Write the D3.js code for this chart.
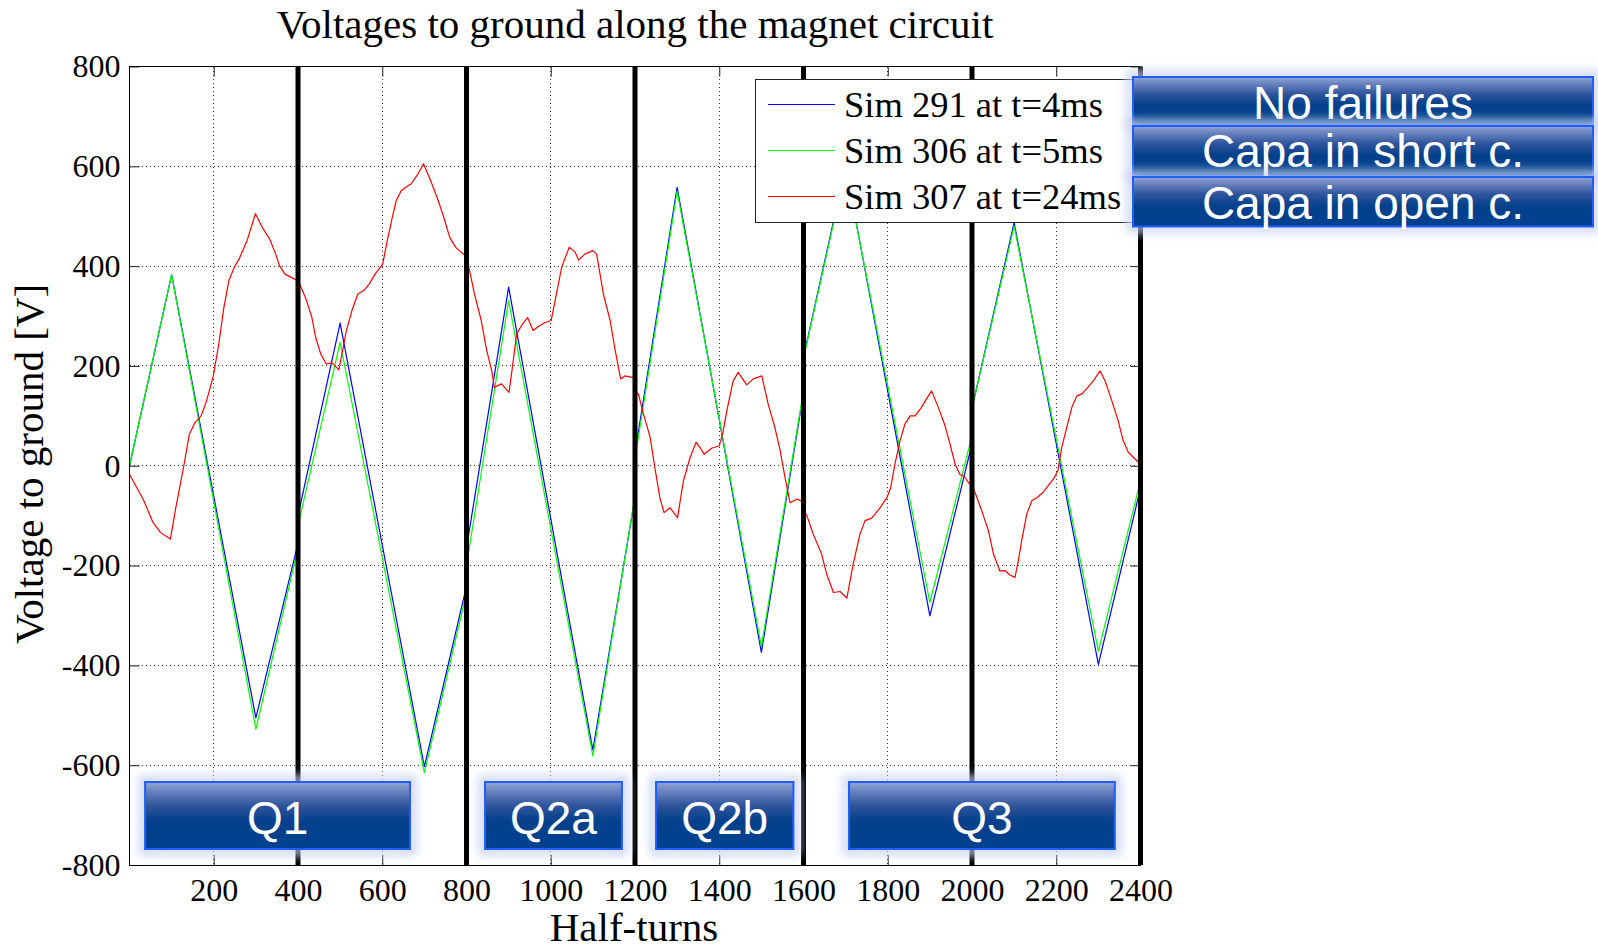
<!DOCTYPE html>
<html>
<head>
<meta charset="utf-8">
<script src="https://cdn.jsdelivr.net/npm/d3@7"></script>
<style>
  body { margin: 0; background: #fff; }
  svg { display: block; }
</style>
</head>
<body>
<svg id="chart" width="1598" height="947"></svg>
<script>
// ---- Data -----------------------------------------------------------------
// Half-turn positions of the triangle-wave vertices (each sector restarts at its boundary)
const triHalfTurns = [0, 100, 300, 400,   400, 500, 700, 800,   800, 900, 1100, 1200,
                      1200, 1300, 1500, 1600,   1600, 1700, 1900, 2000,   2000, 2100, 2300, 2400];
// Voltage to ground [V], Sim 291 (no failures)
const sim291 = [0, 383, -505, -155,   -100, 286, -603, -241,   -165, 358, -570, -63,
                25, 558, -374, 146,   217, 600, -301, 44,   115, 487, -398, -45];
// Voltage to ground [V], Sim 306 (capacitor in short circuit)
const sim306 = [0, 383, -528, -165,   -120, 247, -615, -255,   -200, 331, -582, -60,
                14, 550, -362, 150,   215, 595, -274, 60,   115, 480, -372, -30];

// Sim 307 (capacitor in open circuit), sampled along the circuit
const redHalfTurns = [0, 33, 56, 74, 97, 110, 129, 142, 156, 170, 183, 199, 212, 224, 236, 249, 260, 279, 299, 315,
  333, 347, 356, 369, 392, 400,
  404, 419, 433, 442, 454, 467, 481, 497, 506, 515, 528, 542, 556, 569, 583, 601, 612, 624, 633, 645, 656, 669, 685, 698,
  715, 733, 746, 760, 774, 787, 800,
  808, 819, 835, 848, 860, 866, 883, 901, 910, 919, 933, 945, 958, 974, 987, 1001, 1012, 1026, 1044, 1058, 1066, 1081,
  1100, 1109, 1125, 1141, 1153, 1166, 1176, 1192, 1200,
  1200, 1208, 1220, 1236, 1247, 1259, 1269, 1283, 1301, 1315, 1331, 1345, 1354, 1364, 1382, 1400, 1408, 1418, 1433,
  1445, 1465, 1481, 1501, 1516, 1532, 1544, 1556, 1568, 1584, 1600,
  1600, 1608, 1623, 1643, 1655, 1671, 1687, 1703, 1718, 1734, 1746, 1762, 1782, 1798, 1807, 1817, 1829, 1841, 1853,
  1865, 1880, 1892, 1904, 1920, 1936, 1948, 1960, 1971, 1983, 1991, 2000,
  2007, 2023, 2039, 2051, 2066, 2078, 2090, 2102, 2110, 2118, 2130, 2142, 2154, 2169, 2181, 2193, 2204, 2213, 2225,
  2237, 2249, 2261, 2272, 2288, 2304, 2316, 2332, 2347, 2359, 2371, 2383, 2395, 2400];
const sim307 = [-17, -68, -114, -134, -147, -84, 0, 63, 87, 100, 130, 180, 244, 317, 371, 398, 414, 451, 505, 478,
  454, 424, 401, 384, 374, 370,
  364, 334, 297, 257, 224, 204, 206, 192, 231, 271, 311, 344, 351, 364, 384, 404, 451, 498, 531, 551, 558, 565, 585, 605,
  571, 531, 498, 458, 438, 428, 420,
  388, 344, 291, 231, 190, 157, 164, 147, 204, 264, 284, 297, 271, 281, 287, 291, 338, 398, 438, 428, 412, 424,
  431, 424, 344, 291, 231, 174, 180, 177, 178,
  150, 144, 104, 57, -3, -64, -94, -84, -104, -30, 17, 47, 37, 23, 35, 40, 64, 110, 170,
  187, 162, 174, 180, 124, 77, 33, -23, -74, -67, -72,
  -90, -100, -137, -177, -217, -254, -252, -265, -197, -137, -110, -105, -84, -64, -44, 3, 50, 84, 100,
  100, 117, 134, 150, 117, 80, 43, 3, -17, -23, -33, -40,
  -53, -90, -130, -177, -211, -210, -219, -224, -190, -150, -97, -70, -64, -53, -40, -27, -10, 37, 77,
  117, 140, 144, 154, 170, 190, 170, 130, 90, 50, 27, 17, 7, 5];

const seriesNames = ["Sim 291 at t=4ms", "Sim 306 at t=5ms", "Sim 307 at t=24ms"];
const seriesColors = ["#0000ff", "#00ff00", "#ff0000"];
const scenarioLabels = ["No failures", "Capa in short c.", "Capa in open c."];

const xTicks = [200, 400, 600, 800, 1000, 1200, 1400, 1600, 1800, 2000, 2200, 2400];
const yTicks = [-800, -600, -400, -200, 0, 200, 400, 600, 800];
const sectorBounds = [400, 800, 1200, 1600, 2000, 2400];
const sectorLabels = ["Q1", "Q2a", "Q2b", "Q3"];
// label boxes in half-turn units
const sectorBoxSpans = [[37, 666], [844, 1169], [1250, 1576], [1708, 2339]];

// ---- Layout ---------------------------------------------------------------
const W = 1598, H = 947;
const plot = { left: 129.5, right: 1140.5, top: 66.5, bottom: 865 };
const serif = "'Liberation Serif', 'Times New Roman', serif";
const sans = "'Liberation Sans', Arial, sans-serif";

const svg = d3.select("#chart");
const x = d3.scaleLinear().domain([0, 2400]).range([plot.left, plot.right]);
const y = d3.scaleLinear().domain([-800, 800]).range([plot.bottom, plot.top]);

// defs: gradient and glow for the label badges
const defs = svg.append("defs");
const grad = defs.append("linearGradient").attr("id", "badgeGrad")
  .attr("x1", 0).attr("y1", 0).attr("x2", 0).attr("y2", 1);
[[0, "#94a6d4"], [0.12, "#6f87c2"], [0.35, "#2f559c"], [0.58, "#05408b"], [1, "#00418f"]]
  .forEach(([o, c]) => grad.append("stop").attr("offset", o).attr("stop-color", c));
const glow = defs.append("filter").attr("id", "glow")
  .attr("x", "-20%").attr("y", "-60%").attr("width", "140%").attr("height", "220%");
glow.append("feGaussianBlur").attr("stdDeviation", 5);

// ---- Grid -----------------------------------------------------------------
const grid = svg.append("g").attr("stroke", "#333").attr("stroke-width", 1)
  .attr("stroke-dasharray", "1,3").attr("shape-rendering", "crispEdges");
grid.selectAll("line.gx").data(xTicks.filter(d => d < 2400)).join("line")
  .attr("x1", d => x(d)).attr("x2", d => x(d))
  .attr("y1", plot.top).attr("y2", plot.bottom);
grid.selectAll("line.gy").data(yTicks.filter(d => d > -800 && d < 800)).join("line")
  .attr("x1", plot.left).attr("x2", plot.right)
  .attr("y1", d => y(d)).attr("y2", d => y(d));

// ---- Axes -----------------------------------------------------------------
const fmt = d => String(d);
function styleAxis(g, labels) {
  g.select(".domain").remove();
  g.attr("color", "#222");
  g.selectAll(".tick line").attr("stroke-width", 1);
  if (labels) g.selectAll(".tick text").attr("font-family", serif).attr("font-size", 32).attr("fill", "#000");
  else g.selectAll(".tick text").remove();
}
svg.append("g").attr("transform", `translate(0,${plot.bottom})`)
  .call(d3.axisBottom(x).tickValues(xTicks).tickSize(-10).tickPadding(13).tickFormat(fmt))
  .call(g => styleAxis(g, true));
svg.append("g").attr("transform", `translate(0,${plot.top})`)
  .call(d3.axisTop(x).tickValues(xTicks).tickSize(-10).tickFormat(""))
  .call(g => styleAxis(g, false));
svg.append("g").attr("transform", `translate(${plot.left},0)`)
  .call(d3.axisLeft(y).tickValues(yTicks).tickSize(-10).tickPadding(9).tickFormat(fmt))
  .call(g => styleAxis(g, true));
svg.append("g").attr("transform", `translate(${plot.right},0)`)
  .call(d3.axisRight(y).tickValues(yTicks).tickSize(-10).tickFormat(""))
  .call(g => styleAxis(g, false));

// ---- Curves ---------------------------------------------------------------
const line = d3.line().x(d => x(d[0])).y(d => y(d[1]));
const curves = [
  d3.zip(triHalfTurns, sim291),
  d3.zip(triHalfTurns, sim306),
  d3.zip(redHalfTurns, sim307)
];
svg.append("g").selectAll("path").data(curves).join("path")
  .attr("d", line)
  .attr("fill", "none")
  .attr("stroke", (d, i) => seriesColors[i])
  .attr("stroke-width", 1.2)
  .attr("stroke-linejoin", "round");

// sector boundaries
svg.append("g").selectAll("line").data(sectorBounds).join("line")
  .attr("x1", d => x(d)).attr("x2", d => x(d))
  .attr("y1", plot.top).attr("y2", plot.bottom)
  .attr("stroke", "#000").attr("stroke-width", 5);

// frame
svg.append("rect")
  .attr("x", plot.left).attr("y", plot.top)
  .attr("width", plot.right - plot.left).attr("height", plot.bottom - plot.top)
  .attr("fill", "none").attr("stroke", "#000").attr("stroke-width", 1)
  .attr("shape-rendering", "crispEdges");

// ---- Titles ---------------------------------------------------------------
svg.append("text").attr("x", 635).attr("y", 38).attr("text-anchor", "middle")
  .attr("font-family", serif).attr("font-size", 41)
  .text("Voltages to ground along the magnet circuit");
svg.append("text").attr("x", 634).attr("y", 941).attr("text-anchor", "middle")
  .attr("font-family", serif).attr("font-size", 41)
  .text("Half-turns");
svg.append("text").attr("transform", "translate(43,464) rotate(-90)").attr("text-anchor", "middle")
  .attr("font-family", serif).attr("font-size", 41)
  .text("Voltage to ground [V]");

// ---- Legend ---------------------------------------------------------------
const leg = svg.append("g");
leg.append("rect").attr("x", 755.5).attr("y", 79.5).attr("width", 377).attr("height", 143)
  .attr("fill", "#fff").attr("stroke", "#222").attr("stroke-width", 1);
seriesNames.forEach((name, i) => {
  const cy = 104.5 + i * 46;
  leg.append("line").attr("x1", 768).attr("x2", 835).attr("y1", cy).attr("y2", cy)
    .attr("stroke", seriesColors[i]).attr("stroke-width", 1.2);
  leg.append("text").attr("x", 844).attr("y", cy + 12.5)
    .attr("font-family", serif).attr("font-size", 36.5).text(name);
});

// ---- Badges ---------------------------------------------------------------
function badge(g, x0, y0, x1, y1, label, baseline) {
  g.append("rect").attr("x", x0 - 2).attr("y", y0 - 2)
    .attr("width", x1 - x0 + 4).attr("height", y1 - y0 + 4)
    .attr("fill", "none").attr("stroke", "#c9d3f2").attr("stroke-width", 9)
    .attr("filter", "url(#glow)").attr("opacity", 0.9);
  g.append("rect").attr("x", x0).attr("y", y0)
    .attr("width", x1 - x0).attr("height", y1 - y0)
    .attr("fill", "url(#badgeGrad)").attr("stroke", "#1f5dff").attr("stroke-width", 2);
  g.append("text").attr("x", (x0 + x1) / 2).attr("y", baseline)
    .attr("text-anchor", "middle").attr("fill", "#fff")
    .attr("font-family", sans).attr("font-size", 46).text(label);
}

const sectorG = svg.append("g");
sectorLabels.forEach((lab, i) => {
  const [a, b] = sectorBoxSpans[i];
  badge(sectorG, x(a), 782, x(b), 849, lab, 834);
});

const scenG = svg.append("g");
const scenRows = [[77, 125, 119], [126, 176, 167], [177, 226.5, 218.5]];
scenarioLabels.forEach((lab, i) => {
  const [t, b, base] = scenRows[i];
  badge(scenG, 1133, t, 1593, b, lab, base);
});
</script>
</body>
</html>
